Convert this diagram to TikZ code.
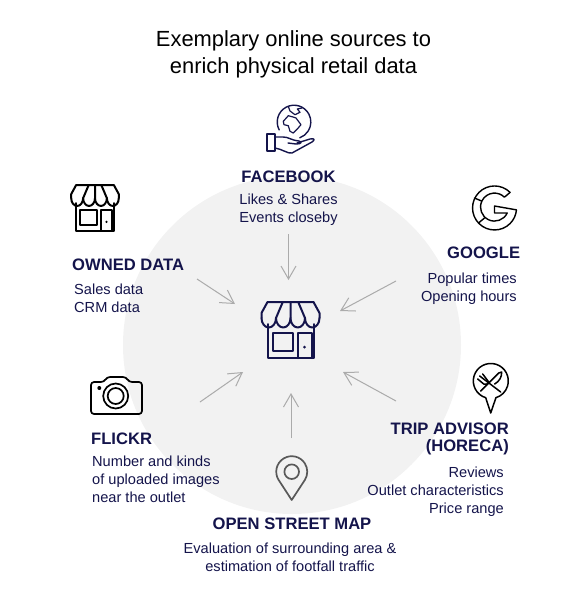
\documentclass[tikz,border=0pt]{standalone}
\usepackage{fontspec}
\setmainfont{Liberation Sans}
\usepackage{xcolor}
\definecolor{navy}{HTML}{14144B}
\definecolor{disc}{HTML}{F2F2F2}
\definecolor{arrowgray}{HTML}{ABABAB}
\definecolor{pingray}{HTML}{595959}
\usetikzlibrary{arrows.meta}
\tikzset{
  ttitle/.style={font=\fontsize{21.9}{27}\selectfont, text=black, align=center, inner sep=0pt},
  thead/.style={font=\fontsize{16.6}{17}\selectfont\bfseries, text=navy, inner sep=0pt},
  tbody/.style={font=\fontsize{14.6}{18}\selectfont, text=navy, inner sep=0pt},
  tarr/.style={-{Straight Barb[length=13pt,width=15pt]}, line width=1pt, color=arrowgray},
  ticon/.style={line width=1.7pt, line join=round, line cap=round},
  tstore/.style={line width=2pt, line join=round, line cap=round},
  storeicon/.pic={
    % awning
    \draw[tstore] (-29,-12) -- (-29,-17) -- (-23,-28) -- (23,-28) -- (29,-17) -- (29,-12);
    \draw[tstore] (-7.7,-28) -- (-14.5,-12) (7.7,-28) -- (14.5,-12) (0,-28) -- (0,-12);
    \draw[tstore] (-29,-12) arc[start angle=180, end angle=0, x radius=7.25, y radius=9.5]
      arc[start angle=180, end angle=0, x radius=7.25, y radius=9.5]
      arc[start angle=180, end angle=0, x radius=7.25, y radius=9.5]
      arc[start angle=180, end angle=0, x radius=7.25, y radius=9.5];
    % walls
    \draw[tstore] (-23,-6) -- (-23,28) -- (23,28) -- (23,-6);
    \draw[tstore] (-18,3) rectangle (2,21);
    \draw[tstore] (7,28) -- (7,3) -- (21,3) -- (21,28);
    \fill (14,17) circle[radius=1.5];
  },
}
\begin{document}
\begin{tikzpicture}[x=1pt, y=-1pt]
  \useasboundingbox (0,0) rectangle (570,600);
  \fill[disc] (292,345) circle[radius=169];

  % Title
  \node[ttitle] (title) at (293.5,54) {Exemplary online sources to\\enrich physical retail data};

  % Centre
  \pic[color=navy] at (290.5,330) {storeicon};

  % Facebook
  \node[thead] (fbhead) at (288.5,177) {FACEBOOK};
  \node[tbody, align=center] (fbbody) at (288.5,209.5) {Likes \& Shares\\Events closeby};

  % Owned data
  \node[thead, anchor=west] (ownhead) at (72,265) {OWNED DATA};
  \node[tbody, align=left, anchor=west] (ownbody) at (74,298) {Sales data\\CRM data};

  % Google
  \node[thead, anchor=west] (gohead) at (447,253) {GOOGLE};
  \node[tbody, align=right, anchor=east] (gobody) at (517,288.5) {Popular times\\Opening hours};

  % Trip advisor
  \node[thead, align=right, anchor=east] (triphead) at (509,439) {TRIP ADVISOR\\(HORECA)};
  \node[tbody, align=right, anchor=east] (tripbody) at (504,492) {Reviews\\Outlet characteristics\\Price range};

  % Flickr
  \node[thead, anchor=west] (flhead) at (91,439) {FLICKR};
  \node[tbody, align=left, anchor=west] (flbody) at (92,479) {Number and kinds\\of uploaded images\\near the outlet};

  % Open street map
  \node[thead] (osmhead) at (292,524) {OPEN STREET MAP};
  \node[tbody, align=center] (osmbody) at (290,557) {Evaluation of surrounding area \&\\estimation of footfall traffic};

  % Arrow ends
  \coordinate (fbs) at (288.5,234);
  \coordinate (fbt) at (288.5,280);
  \coordinate (owns) at (197,279);
  \coordinate (ownt) at (235,304);
  \coordinate (gos) at (396,281);
  \coordinate (got) at (340,311);
  \coordinate (trips) at (396,401);
  \coordinate (tript) at (343,372);
  \coordinate (osms) at (291,438);
  \coordinate (osmt) at (291,393);
  \coordinate (fls) at (200,402);
  \coordinate (flt) at (243,372);

  \draw[tarr] (fbs) -- (fbt);
  \draw[tarr] (owns) -- (ownt);
  \draw[tarr] (gos) -- (got);
  \draw[tarr] (trips) -- (tript);
  \draw[tarr] (osms) -- (osmt);
  \draw[tarr] (fls) -- (flt);

  % Globe in a hand
  \begin{scope}[navy, shift={(294,122)}]
    \draw[ticon, line width=1.4pt] (-14.8,7.9) arc[start angle=152, end angle=430, radius=16.8];
    \draw[ticon, line width=1.2pt] (-10.7,-0.7) -- (-5.7,-6.3) -- (-1,-5) -- (2,-4) -- (7,2.7) -- (3.3,7)
      -- (-0.7,11) -- (-4,9.3) -- (-5.7,3.7) -- (-10,2.7) -- cycle;
    \draw[ticon, line width=1.2pt] (-5.7,-15.5) -- (-4,-11) -- (1,-7.3) -- (6,-9.7) -- (3.3,-13) -- (8,-14);
    \draw[ticon, line width=1.4pt] (-27,12) rectangle (-19,29);
    \draw[ticon, line width=1.4pt] (-19,15) -- (-11,15) .. controls (-5,15) and (-4,18) .. (5,19)
      .. controls (8,20) and (8,22) .. (2,22) -- (-6,21);
    \draw[ticon, line width=1.4pt] (3,21) -- (16,17) .. controls (21,16) and (21,18) .. (18,20)
      -- (-2,31) .. controls (-6,32) and (-12,27) .. (-19,26);
  \end{scope}

  % Store
  \pic[color=black, scale=0.82] at (95,208) {storeicon};

  % Google G
  \begin{scope}[black, shift={(494.5,208)}]
    \draw[ticon, line width=1.4pt] (15.6,-15.6) arc[start angle=-45, end angle=-355, radius=22]
      -- (0,-2) -- (0,5) -- (12.7,5) arc[start angle=25, end angle=315, radius=14] -- cycle;
    \draw[ticon, line width=1.4pt] (-20,-10) -- (-13,-7) (-16,15) -- (-10,10);
  \end{scope}

  % Restaurant pin
  \begin{scope}[black, shift={(490.7,381)}]
    \draw[ticon, line width=1.5pt] (-5,16.7) arc[start angle=107, end angle=433, radius=17.5] -- (0,32) -- cycle;
    \draw[ticon, line width=1.5pt] (-11,-5) -- (10,11);
    \draw[ticon, line width=1.5pt] (-13,-2) -- (-7,3) .. controls (-4,4) and (-3,3) .. (-2,1) -- (-8,-7);
    \draw[ticon, line width=1.5pt] (-10,10) -- (8,-8) -- (11,-9) .. controls (11,-4) and (9,0) .. (4,3);
  \end{scope}

  % Camera
  \begin{scope}[black]
    \draw[ticon, rounded corners=3pt] (91,382) -- (104,382) -- (107,377) -- (126,377) -- (129,382)
      -- (142,382) -- (142,414) -- (91,414) -- cycle;
    \draw[ticon] (115.7,396) circle[radius=12.5];
    \draw[ticon] (115.7,396) circle[radius=8];
    \fill (99.3,388) circle[radius=2];
  \end{scope}

  % Map pin
  \begin{scope}[pingray, shift={(291.7,471.7)}]
    \draw[ticon] (0,28.3) -- (-13.1,8.2) arc[start angle=148, end angle=392, radius=15.5] -- cycle;
    \draw[ticon] (0,0) circle[radius=7.3];
  \end{scope}
\end{tikzpicture}
\end{document}
